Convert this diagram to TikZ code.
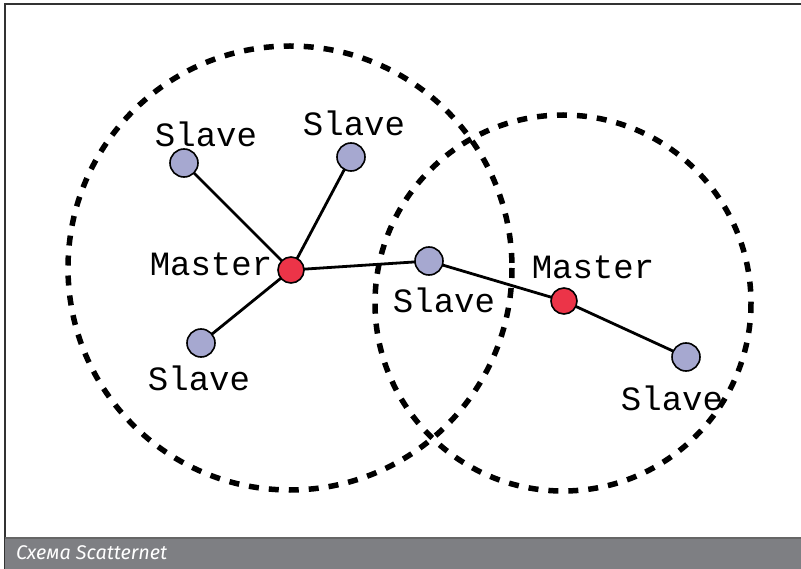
\documentclass[tikz,border=0pt]{standalone}
\usepackage{fontspec}
\setmonofont{Liberation Mono}
\newfontfamily\captionfont{Fira Sans}
\definecolor{slavefill}{RGB}{166,168,208}
\definecolor{masterfill}{RGB}{236,52,72}
\definecolor{bargray}{RGB}{126,127,131}
\begin{document}
\begin{tikzpicture}[x=1pt, y=-1pt,
  zone/.style={draw, dash pattern=on 10pt off 10pt, line width=5.5pt},
  link/.style={line width=2.8pt},
  slave/.style={circle, draw, line width=1.6pt, fill=slavefill, minimum size=28pt, inner sep=0pt},
  master/.style={circle, draw, line width=1.6pt, fill=masterfill, minimum size=26pt, inner sep=0pt},
  role/.style={font=\ttfamily\fontsize{34}{36}\selectfont, inner sep=0pt}]
\useasboundingbox (0,0) rectangle (801,569);
\fill[white] (0,0) rectangle (801,569);
\draw[line width=1.5pt, black!80] (5,569) -- (5,4) -- (801,4);
\fill[bargray] (5,538) rectangle (801,569);
\draw[line width=1.2pt, black!60] (5,538) -- (801,538);
\node[anchor=west, text=white, font=\captionfont\itshape\fontsize{19.8}{22}\selectfont, inner sep=0pt] (cap) at (16,553) {Схема Scatternet};
% zones
\draw[zone] (290,268) circle (222);
\draw[zone] (563,303) circle (188);
% links
\coordinate (m1) at (291,270);
\coordinate (m2) at (564,301);
\coordinate (s1) at (184,163);
\coordinate (s2) at (351,157);
\coordinate (s3) at (201,343);
\coordinate (s4) at (429,261);
\coordinate (s5) at (686,357);
\draw[link] (m1) -- (s1);
\draw[link] (m1) -- (s2);
\draw[link] (m1) -- (s3);
\draw[link] (m1) -- (s4);
\draw[link] (s4) -- (m2);
\draw[link] (m2) -- (s5);
\node[slave] (n1) at (s1) {};
\node[slave] (n2) at (s2) {};
\node[slave] (n3) at (s3) {};
\node[slave] (n4) at (s4) {};
\node[slave] (n5) at (s5) {};
\node[master] (n6) at (m1) {};
\node[master] (n7) at (m2) {};
% labels
\node[role] (l1) at (206,134) {Slave};
\node[role] (l2) at (354,123) {Slave};
\node[role] (l3) at (199,378) {Slave};
\node[role] (l4) at (444,300) {Slave};
\node[role] (l5) at (672,398) {Slave};
\node[role] (l6) at (211,264) {Master};
\node[role] (l7) at (593,267) {Master};
\end{tikzpicture}
\end{document}
